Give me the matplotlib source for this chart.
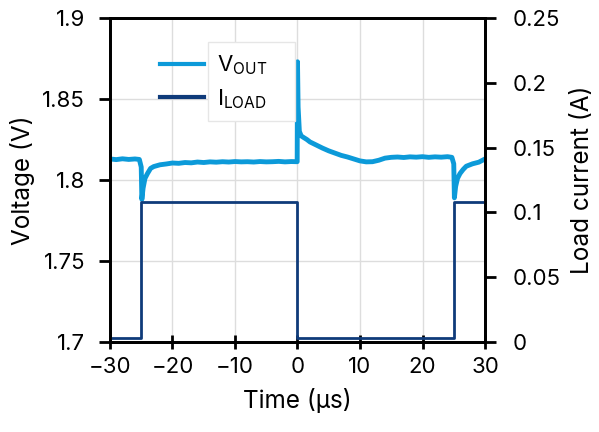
"""Load-step transient: output voltage and load current against time."""

import matplotlib

matplotlib.use("Agg")
import matplotlib.pyplot as plt
from matplotlib.patches import Rectangle
from matplotlib.transforms import Bbox

plt.rcParams.update(
    {
        "font.family": ["Inter", "DejaVu Sans"],
        "font.size": 16,
        "axes.linewidth": 2.0,
        "xtick.major.width": 2.0,
        "ytick.major.width": 2.0,
        "mathtext.default": "regular",
    }
)

VOUT_COLOR = "#0c9ad9"
ILOAD_COLOR = "#0f3b7a"

# output voltage (µs, V)
t_vout = [
    -30, -29, -28, -27, -26, -25.3, -25.0, -24.9, -24.7, -24.4, -24, -23.5, -23,
    -22, -21, -20, -19, -18, -17, -16, -15, -14, -13, -12, -11, -10, -9, -8, -7,
    -6, -5, -4, -3, -2, -1, -0.05, 0.0, 0.1, 0.3, 0.6, 1, 1.5, 2, 3, 4, 5, 6, 7,
    8, 9, 10, 11, 12, 13, 14, 15, 16, 17, 18, 19, 20, 21, 22, 23, 24, 24.7, 25.0,
    25.1, 25.3, 25.6, 26, 26.5, 27, 28, 29, 30,
]
v_out = [
    1.8130, 1.8126, 1.8131, 1.8127, 1.8130, 1.8127, 1.8080, 1.7880, 1.7950,
    1.8010, 1.8040, 1.8072, 1.8083, 1.8094, 1.8099, 1.8105, 1.8103, 1.8108,
    1.8106, 1.8111, 1.8108, 1.8112, 1.8110, 1.8113, 1.8111, 1.8114, 1.8112,
    1.8113, 1.8111, 1.8114, 1.8112, 1.8113, 1.8115, 1.8112, 1.8114, 1.8113,
    1.8730, 1.8450, 1.8300, 1.8272, 1.8262, 1.8250, 1.8235, 1.8216, 1.8197,
    1.8180, 1.8166, 1.8152, 1.8142, 1.8130, 1.8118, 1.8112, 1.8113, 1.8122,
    1.8135, 1.8140, 1.8142, 1.8139, 1.8143, 1.8141, 1.8144, 1.8140, 1.8143,
    1.8141, 1.8144, 1.8140, 1.8100, 1.7890, 1.7960, 1.8010, 1.8040, 1.8065,
    1.8085, 1.8100, 1.8110, 1.8130,
]

# load current steps (µs, A)
t_iload = [-30, -25, -25, 0, 0, 25, 25, 30]
i_load = [0.003, 0.003, 0.108, 0.108, 0.003, 0.003, 0.108, 0.108]

x_ticks = [-30, -20, -10, 0, 10, 20, 30]
v_ticks = [1.7, 1.75, 1.8, 1.85, 1.9]
v_tick_labels = ["1.7", "1.75", "1.8", "1.85", "1.9"]
i_ticks = [0, 0.05, 0.1, 0.15, 0.2, 0.25]
i_tick_labels = ["0", "0.05", "0.1", "0.15", "0.2", "0.25"]


def main() -> None:
    fig = plt.figure(figsize=(5.99, 4.32), dpi=100)
    ax = fig.add_axes([0.1836, 0.2083, 0.6261, 0.75])
    ax2 = ax.twinx()

    ax.grid(True, color="#dddddd", linewidth=1.0)
    ax.set_axisbelow(True)

    (l_v,) = ax.plot(t_vout, v_out, color=VOUT_COLOR, linewidth=3.5)
    (l_i,) = ax2.plot(t_iload, i_load, color=ILOAD_COLOR, linewidth=2.0)

    ax.set_xlim(-30, 30)
    ax.set_ylim(1.7, 1.9)
    ax2.set_ylim(0, 0.25)

    ax.set_xticks(x_ticks)
    ax.set_xticklabels([str(t).replace("-", "\u2212") for t in x_ticks])
    ax.set_yticks(v_ticks)
    ax.set_yticklabels(v_tick_labels)
    ax2.set_yticks(i_ticks)
    ax2.set_yticklabels(i_tick_labels)

    ax.tick_params(axis="x", direction="inout", length=10, pad=6)
    ax.tick_params(axis="y", direction="out", length=8, pad=10)
    ax2.tick_params(axis="y", direction="out", length=8, pad=12)

    ax.set_xlabel("Time (µs)", fontsize=17.5, labelpad=8)
    ax.set_ylabel("Voltage (V)", fontsize=17.5, labelpad=5)
    ax2.set_ylabel("Load current (A)", fontsize=17.5, labelpad=7)

    leg = ax2.legend(
        [l_v, l_i],
        ["V$_{OUT}$", "I$_{LOAD}$"],
        loc="upper left",
        bbox_to_anchor=(0.133, 0.89),
        frameon=False,
        fontsize=16,
        handlelength=2.0,
        handletextpad=0.55,
        borderpad=0.0,
        borderaxespad=0.0,
        labelspacing=0.45,
    )
    for h in leg.get_lines():
        h.set_linewidth(3.0)

    # box drawn round the legend texts only, the handles sit outside it
    fig.canvas.draw()
    renderer = fig.canvas.get_renderer()
    tb = Bbox.union([t.get_window_extent(renderer) for t in leg.get_texts()])
    box = Bbox.from_extents(tb.x0 - 9, tb.y0 - 10, tb.x1 + 28, tb.y1 + 12)
    box_ax = box.transformed(ax2.transAxes.inverted())
    ax2.add_patch(
        Rectangle(
            (box_ax.x0, box_ax.y0),
            box_ax.width,
            box_ax.height,
            transform=ax2.transAxes,
            facecolor="white",
            edgecolor="#e6e6e6",
            linewidth=1.0,
            zorder=4,
        )
    )

    fig.savefig("out.png", dpi=100)
    plt.close(fig)


if __name__ == "__main__":
    main()
